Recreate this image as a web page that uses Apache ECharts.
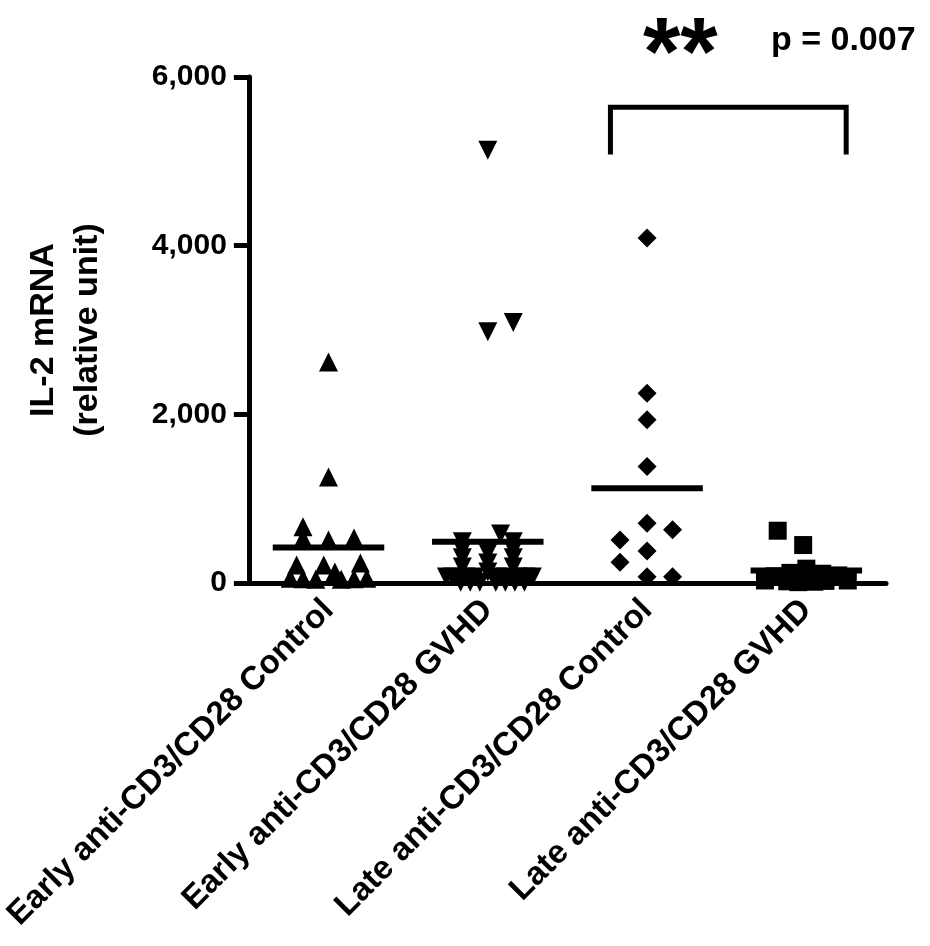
<!DOCTYPE html>
<html>
<head>
<meta charset="utf-8">
<script src="https://cdn.jsdelivr.net/npm/echarts@6/dist/echarts.min.js"></script>
<style>
html,body{margin:0;padding:0;background:#fff;}
#chart{width:930px;height:946px;}
</style>
</head>
<body>
<div id="chart"></div>
<script>
// ---- data ----
var groups = ['Early anti-CD3/CD28 Control', 'Early anti-CD3/CD28 GVHD', 'Late anti-CD3/CD28 Control', 'Late anti-CD3/CD28 GVHD'];
var yTicks = [0, 2000, 4000, 6000];

var earlyControl = [2620, 1257, 668, 530, 510, 534, 213, 213, 237, 130, 55, 50, 45, 45, 50, 55];
var earlyControlJitter = [0, 0, -0.16, -0.16, 0, 0.16, -0.2, -0.03, 0.2, 0.04, -0.24, -0.16, -0.08, 0.08, 0.16, 0.24];

var earlyGVHD = [5130, 2980, 3090, 580, 490, 390, 300, 190, 356, 237, 130, 490, 390, 300, 190, 70, 70, 70, 70, 70, 70, 70, 70, 70, 10, 10, 10, 10, 10, 10, 10];
var earlyGVHDJitter = [0, 0, 0.16, 0.08, -0.16, -0.16, -0.16, -0.16, 0, 0, 0, 0.16, 0.16, 0.16, 0.16, -0.26, -0.22, -0.14, -0.08, 0.06, 0.11, 0.19, 0.24, 0.28, -0.17, -0.11, -0.05, 0.05, 0.11, 0.17, 0.23];

var lateControl = [4090, 2250, 1935, 1380, 708, 630, 510, 380, 245, 75, 75];
var lateControlJitter = [0, 0, 0, 0, 0, 0.16, -0.17, 0, -0.17, 0, 0.16];

var lateGVHD = [620, 450, 170, 120, 110, 90, 80, 30, 30, 20, 25, 40, 15, 10];
var lateGVHDJitter = [-0.18, -0.02, 0, -0.1, 0.1, 0.2, -0.2, -0.26, 0.26, -0.12, 0.12, 0, 0.05, -0.05];

var means = [420, 490, 1125, 148];

// significance bracket between groups 3 and 4 (x in category units, y in data units)
var bracketX = [1.77, 3.25];
var bracketY = [5080, 5640];
var sigStars = '**';
var sigText = 'p = 0.007';

// ---- chart ----
var FONT = '"Liberation Sans", Arial, sans-serif';
function pts(vals, jit, idx) {
  return vals.map(function (v, i) { return [idx + jit[i], v]; });
}
function fmt(v) { return String(v).replace(/\B(?=(\d{3})+(?!\d))/g, ','); }

var chart = echarts.init(document.getElementById('chart'));
var SYM = 19;
var mark = { color: '#000', opacity: 1 };
var option = {
  animation: false,
  backgroundColor: '#fff',
  grid: { left: 246, right: 44, top: 77, bottom: 363, containLabel: false },
  xAxis: [
    {
      type: 'category', data: groups, boundaryGap: true,
      axisLine: { onZero: false, lineStyle: { color: '#000', width: 5 } },
      axisTick: { alignWithLabel: true, length: 15, lineStyle: { color: '#000', width: 5 } },
      axisLabel: { rotate: 45, interval: 0, margin: 22, color: '#000', fontSize: 33, fontWeight: 'bold', fontFamily: FONT },
      splitLine: { show: false }
    },
    { type: 'value', min: -0.5, max: 3.5, show: false, axisLine: { onZero: false } }
  ],
  yAxis: {
    type: 'value', min: yTicks[0], max: yTicks[yTicks.length - 1], interval: 2000,
    name: 'IL-2 mRNA\n(relative unit)', nameLocation: 'middle', nameRotate: 90, nameGap: 139,
    nameTextStyle: { color: '#000', fontSize: 34, fontWeight: 'bold', fontFamily: FONT, lineHeight: 44 },
    axisLine: { show: true, onZero: false, lineStyle: { color: '#000', width: 5 } },
    axisTick: { show: true, length: 15, lineStyle: { color: '#000', width: 5 } },
    axisLabel: { margin: 22, color: '#000', fontSize: 30, fontWeight: 'bold', fontFamily: FONT, formatter: fmt },
    splitLine: { show: false }
  },
  series: [
    { type: 'scatter', xAxisIndex: 1, symbol: 'triangle', symbolSize: SYM, itemStyle: mark, data: pts(earlyControl, earlyControlJitter, 0) },
    { type: 'scatter', xAxisIndex: 1, symbol: 'triangle', symbolRotate: 180, symbolSize: SYM, itemStyle: mark, data: pts(earlyGVHD, earlyGVHDJitter, 1) },
    { type: 'scatter', xAxisIndex: 1, symbol: 'diamond', symbolSize: SYM, itemStyle: mark, data: pts(lateControl, lateControlJitter, 2) },
    { type: 'scatter', xAxisIndex: 1, symbol: 'rect', symbolSize: SYM - 1, itemStyle: mark, data: pts(lateGVHD, lateGVHDJitter, 3) },
    {
      type: 'custom', xAxisIndex: 1, z: 5,
      data: means.map(function (m, i) { return [i, m]; }),
      renderItem: function (params, api) {
        var i = api.value(0), m = api.value(1);
        var a = api.coord([i - 0.35, m]), b = api.coord([i + 0.35, m]);
        return { type: 'line', shape: { x1: a[0], y1: a[1], x2: b[0], y2: b[1] }, style: { stroke: '#000', lineWidth: 6 } };
      }
    },
    {
      type: 'custom', xAxisIndex: 1, z: 5,
      data: [[bracketX[0], bracketX[1], bracketY[0], bracketY[1]]],
      renderItem: function (params, api) {
        var x1 = api.value(0), x2 = api.value(1), yb = api.value(2), yt = api.value(3);
        var p1 = api.coord([x1, yb]), p2 = api.coord([x1, yt]), p3 = api.coord([x2, yt]), p4 = api.coord([x2, yb]);
        return { type: 'polyline', shape: { points: [p1, p2, p3, p4] }, style: { stroke: '#000', lineWidth: 5, fill: null } };
      }
    }
  ],
  graphic: [
    { type: 'text', left: 643, top: 10, style: { text: sigStars, fill: '#000', font: 'bold 96px ' + FONT } },
    { type: 'text', left: 771, top: 24, style: { text: sigText, fill: '#000', font: 'bold 34px ' + FONT } }
  ]
};
chart.setOption(option);
</script>
</body>
</html>
